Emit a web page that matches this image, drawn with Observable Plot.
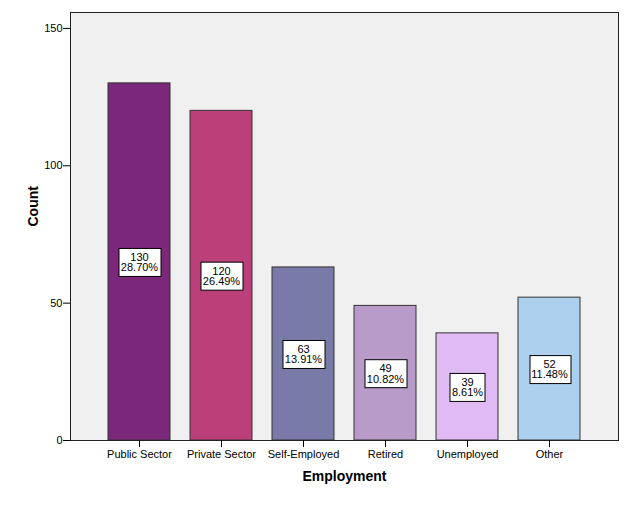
<!DOCTYPE html>
<html>
<head>
<meta charset="utf-8">
<script src="https://cdn.jsdelivr.net/npm/d3@7"></script>
<script src="https://cdn.jsdelivr.net/npm/@observablehq/plot@0.6"></script>
<style>
  html, body { margin: 0; padding: 0; background: #fff; }
  #chart { width: 635px; height: 510px; }
  svg { font-family: "Liberation Sans", Arial, sans-serif; }
</style>
</head>
<body>
<div id="chart"></div>
<script>
const categories = ["Public Sector", "Private Sector", "Self-Employed", "Retired", "Unemployed", "Other"];
const counts = [130, 120, 63, 49, 39, 52];
const yTicks = [0, 50, 100, 150];
const palette = ["#7B287B", "#BB407A", "#7A7AA8", "#B89BC9", "#DFBAF3", "#ADD0EE"];

const total = d3.sum(counts);
const data = categories.map((c, i) => ({
  cat: c,
  count: counts[i],
  pct: (counts[i] / total * 100).toFixed(2) + "%"
}));

const font = '"Liberation Sans", Arial, sans-serif';

const chart = Plot.plot({
  width: 635,
  height: 510,
  marginLeft: 70,
  marginRight: 17,
  marginTop: 12,
  marginBottom: 70,
  style: { fontFamily: font, fontSize: "11px", color: "#000", background: "#fff" },
  x: { domain: categories, paddingInner: 0.246, paddingOuter: 0.456, label: null },
  y: { domain: [0, 155.8], label: null },
  color: { domain: categories, range: palette },
  marks: [
    Plot.frame({ fill: "#F0F0F0", stroke: null }),
    Plot.barY(data, { x: "cat", y: "count", fill: "cat", stroke: "#333", strokeWidth: 1 }),
    Plot.text(data, {
      x: "cat",
      y: d => d.count / 2,
      text: d => `${d.count}\n${d.pct}`,
      fontSize: 11,
      lineHeight: 0.92,
      fill: "#000",
      dy: 1,
      className: "vlabel"
    }),
    Plot.frame({ stroke: "#222", strokeWidth: 1 }),
    Plot.axisY({ ticks: yTicks, tickSize: 7, tickPadding: 1, label: null, fontSize: 11, stroke: "#000" }),
    Plot.axisX({ tickSize: 7, tickPadding: 3, label: null, fontSize: 11, stroke: "#000" }),
    Plot.text(["Employment"], { frameAnchor: "bottom", dy: 40, fontWeight: "bold", fontSize: 14, fill: "#000" }),
    Plot.text(["Count"], { frameAnchor: "left", dx: -37, rotate: -90, fontWeight: "bold", fontSize: 14, fill: "#000" })
  ]
});

document.getElementById("chart").appendChild(chart);

// add white boxes behind value labels
const svg = d3.select(chart.tagName.toLowerCase() === "svg" ? chart : chart.querySelector("svg"));
svg.selectAll("g.vlabel text, .vlabel text").each(function() {
  const bb = this.getBBox();
  const padX = 2, padY = 3;
  const parent = this.parentNode;
  const rect = document.createElementNS("http://www.w3.org/2000/svg", "rect");
  const tr = this.getAttribute("transform");
  if (tr) rect.setAttribute("transform", tr);
  rect.setAttribute("x", Math.round(bb.x - padX) + 0.5);
  rect.setAttribute("y", Math.round(bb.y - padY) + 0.5);
  rect.setAttribute("width", Math.round(bb.width + 2 * padX));
  rect.setAttribute("height", Math.round(bb.height + 2 * padY));
  rect.setAttribute("fill", "#fff");
  rect.setAttribute("stroke", "#000");
  rect.setAttribute("stroke-width", "1");
  parent.insertBefore(rect, this);
});
</script>
</body>
</html>
